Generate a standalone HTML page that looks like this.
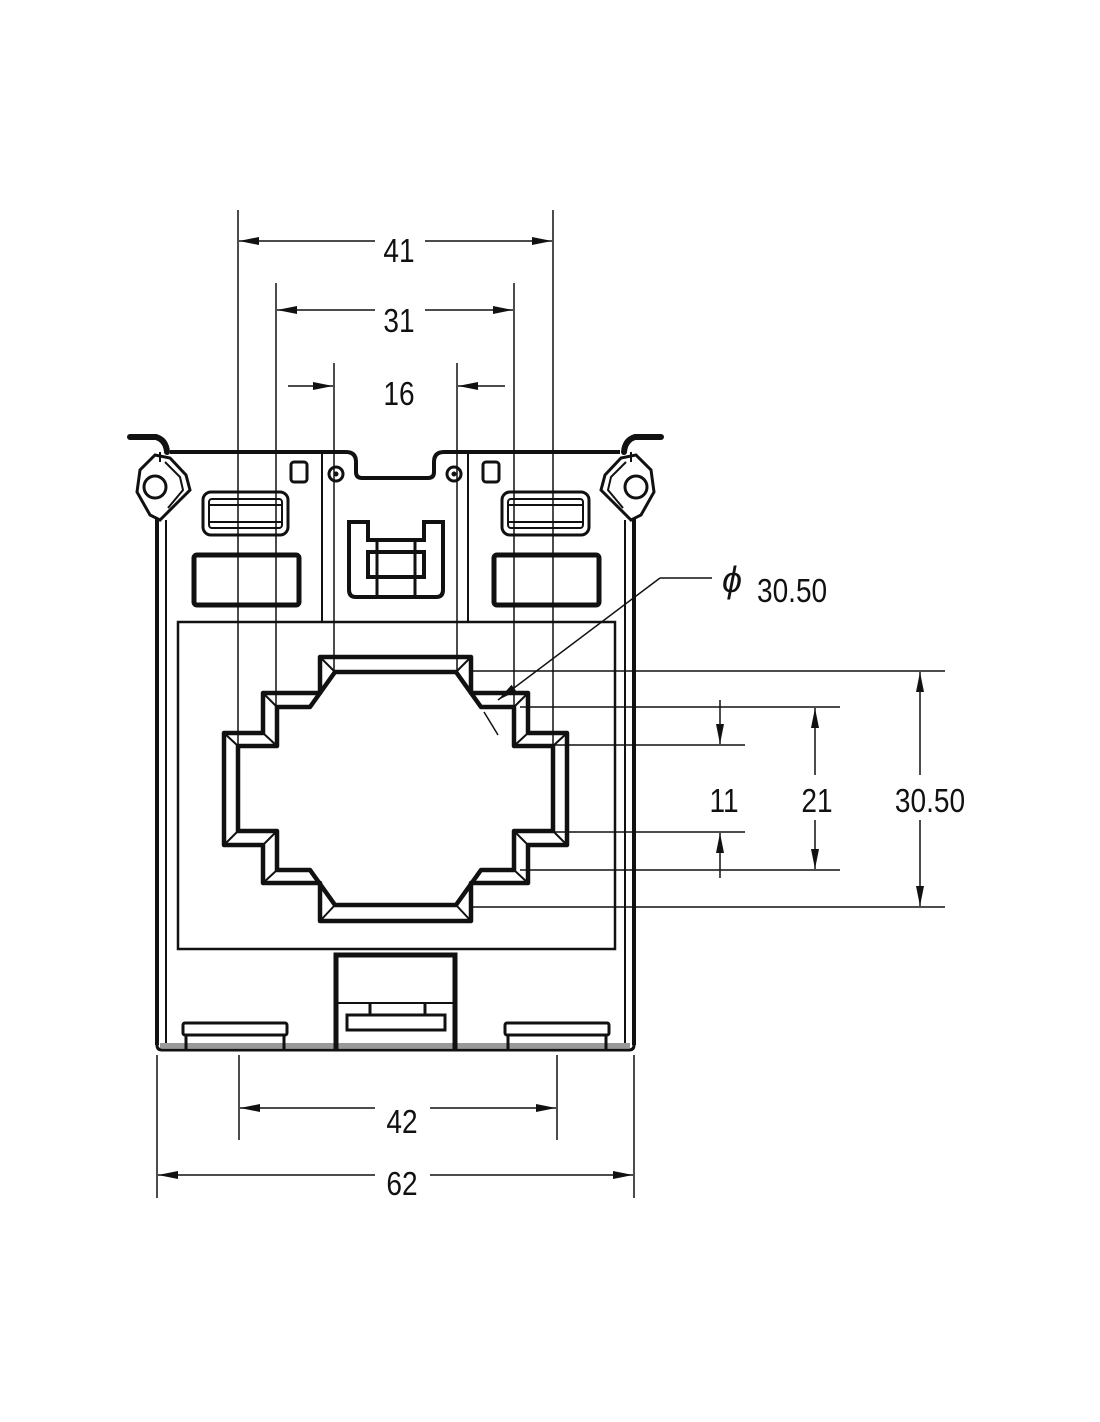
<!DOCTYPE html>
<html><head><meta charset="utf-8"><style>
html,body{margin:0;padding:0;background:#fff;}
svg{display:block;}
text{font-family:"Liberation Sans",sans-serif;font-size:33px;fill:#111;}
</style></head><body>
<svg width="1100" height="1422" viewBox="0 0 1100 1422" xmlns="http://www.w3.org/2000/svg">
<defs>
<marker id="a" viewBox="0 0 20 8" refX="20" refY="4" markerWidth="20" markerHeight="8" markerUnits="userSpaceOnUse" orient="auto-start-reverse"><path d="M0,0 L20,4 L0,8 z" fill="#111"/></marker>
<g id="ear" fill="none" stroke="#111" stroke-width="3">
<path d="M130,437 L156,437 Q166,440 167,452" stroke-width="6" stroke-linecap="round"/>
<path d="M155,455 L140,470 L137,492 L150,515 L160,520 L178,502 L190,490 L186,475 L170,458 Z"/>
<path d="M165,462 L180,477 L183,490 L168,508" stroke-width="2"/>
<circle cx="155" cy="487" r="11"/>
<line x1="160" y1="452" x2="160" y2="462" stroke-width="2"/>
</g>
</defs>
<g fill="none" stroke="#111">
<!-- body -->
<path d="M170,452 L346,452 Q356,452 356,462 L356,472 Q356,478 362,478 L428,478 Q434,478 434,472 L434,462 Q434,452 444,452 L620,452" stroke-width="4"/>
<line x1="157" y1="518" x2="157" y2="1045" stroke-width="4"/>
<line x1="166" y1="520" x2="166" y2="1045" stroke-width="2"/>
<line x1="634" y1="518" x2="634" y2="1045" stroke-width="4"/>
<line x1="625" y1="520" x2="625" y2="1045" stroke-width="2"/>
<path d="M157,1045 Q157,1050 162,1050 L629,1050 Q634,1050 634,1045" stroke-width="3"/>
<rect x="160" y="1043" width="470" height="5" fill="#999" stroke="none"/>
<use href="#ear"/>
<use href="#ear" transform="translate(791,0) scale(-1,1)"/>
<line x1="322" y1="452" x2="322" y2="622" stroke-width="2"/>
<line x1="468" y1="452" x2="468" y2="622" stroke-width="2"/>
<circle cx="336" cy="474" r="7" stroke-width="3"/><circle cx="336" cy="474" r="2" fill="#111"/>
<circle cx="454" cy="474" r="7" stroke-width="3"/><circle cx="454" cy="474" r="2" fill="#111"/>
<rect x="291" y="462" width="16" height="20" rx="3" stroke-width="3"/>
<rect x="483" y="462" width="16" height="20" rx="3" stroke-width="3"/>
<rect x="203" y="492" width="85" height="43" rx="8" stroke-width="3"/>
<rect x="209" y="499" width="73" height="29" rx="3" stroke-width="2"/>
<line x1="209" y1="505" x2="282" y2="505" stroke-width="2"/><line x1="209" y1="522" x2="282" y2="522" stroke-width="2"/>
<rect x="502" y="492" width="87" height="43" rx="8" stroke-width="3"/>
<rect x="508" y="499" width="75" height="29" rx="3" stroke-width="2"/>
<line x1="508" y1="505" x2="583" y2="505" stroke-width="2"/><line x1="508" y1="522" x2="583" y2="522" stroke-width="2"/>
<rect x="194" y="555" width="105" height="50" rx="3" stroke-width="5"/>
<rect x="494" y="555" width="105" height="50" rx="3" stroke-width="5"/>
<!-- center clip -->
<path d="M349,522 L349,590 Q349,597 356,597 L436,597 Q443,597 443,590 L443,522 L424,522 L424,540 L368,540 L368,522 Z" stroke-width="4"/>
<rect x="368" y="552" width="56" height="25" stroke-width="4"/>
<line x1="377" y1="540" x2="377" y2="597" stroke-width="3"/><line x1="415" y1="540" x2="415" y2="597" stroke-width="3"/>
<!-- panel -->
<rect x="178" y="622" width="437" height="327" stroke-width="2.5"/>
<!-- window -->
<path d="M320,657 L471,657 L471,693 L528,693 L528,733 L567,733 L567,845 L528,845 L528,883 L471,883 L471,921 L320,921 L320,883 L263,883 L263,845 L224,845 L224,733 L263,733 L263,693 L320,693 Z" stroke-width="4.5" stroke-linejoin="round"/>
<path d="M335,672 L456,672 L481,707 L514,707 L514,746 L553,746 L553,831 L514,831 L514,870 L481,870 L456,905 L335,905 L310,870 L277,870 L277,831 L238,831 L238,746 L277,746 L277,707 L310,707 Z" stroke-width="4.5" stroke-linejoin="round"/>
<g stroke-width="2">
<path d="M320,657 L335,672 M471,657 L456,672 M320,921 L335,905 M471,921 L456,905"/>
<path d="M263,693 L277,707 M528,693 L514,707 M263,883 L277,870 M528,883 L514,870"/>
<path d="M224,733 L238,746 M567,733 L553,746 M224,845 L238,831 M567,845 L553,831"/>
<path d="M320,693 L310,707 M471,693 L481,707 M320,883 L310,870 M471,883 L481,870"/>
<path d="M263,733 L277,746 M528,733 L514,746 M263,845 L277,831 M528,845 L514,831"/>
</g>
<!-- lower clip -->
<path d="M336,1050 L336,955 L455,955 L455,1050" stroke-width="5"/>
<line x1="336" y1="1003" x2="455" y2="1003" stroke-width="2"/>
<rect x="347" y="1015" width="98" height="15" stroke-width="3"/>
<path d="M370,1015 L370,1003 M425,1015 L425,1003" stroke-width="3"/>
<!-- feet -->
<rect x="183" y="1023" width="104" height="12" rx="2" stroke-width="3"/>
<path d="M186,1035 L186,1049 M284,1035 L284,1049" stroke-width="3"/>
<rect x="505" y="1023" width="104" height="12" rx="2" stroke-width="3"/>
<path d="M508,1035 L508,1049 M606,1035 L606,1049" stroke-width="3"/>
</g>
<!-- dimensions -->
<g stroke="#111" stroke-width="1.5" fill="none">
<line x1="238" y1="210" x2="238" y2="746"/><line x1="553" y1="210" x2="553" y2="746"/>
<line x1="239" y1="241" x2="375" y2="241" marker-start="url(#a)"/><line x1="425" y1="241" x2="552" y2="241" marker-end="url(#a)"/>
<line x1="276" y1="283" x2="276" y2="707"/><line x1="514" y1="283" x2="514" y2="707"/>
<line x1="277" y1="310" x2="375" y2="310" marker-start="url(#a)"/><line x1="425" y1="310" x2="513" y2="310" marker-end="url(#a)"/>
<line x1="334" y1="363" x2="334" y2="672"/><line x1="457" y1="363" x2="457" y2="672"/>
<line x1="288" y1="386" x2="333" y2="386" marker-end="url(#a)"/><line x1="505" y1="386" x2="458" y2="386" marker-end="url(#a)"/>
<line x1="470" y1="671" x2="945" y2="671"/><line x1="470" y1="907" x2="945" y2="907"/>
<line x1="520" y1="707" x2="840" y2="707"/><line x1="520" y1="870" x2="840" y2="870"/>
<line x1="553" y1="745" x2="745" y2="745"/><line x1="553" y1="832" x2="745" y2="832"/>
<line x1="920" y1="672" x2="920" y2="775" marker-start="url(#a)"/><line x1="920" y1="820" x2="920" y2="906" marker-end="url(#a)"/>
<line x1="815" y1="708" x2="815" y2="775" marker-start="url(#a)"/><line x1="815" y1="820" x2="815" y2="869" marker-end="url(#a)"/>
<line x1="720" y1="700" x2="720" y2="744" marker-end="url(#a)"/><line x1="720" y1="878" x2="720" y2="833" marker-end="url(#a)"/>
<line x1="712" y1="578" x2="660" y2="578"/><line x1="660" y1="578" x2="498" y2="700" marker-end="url(#a)"/>
<path d="M484,712 Q492,725 498,735"/>
<line x1="239" y1="1055" x2="239" y2="1140"/><line x1="557" y1="1055" x2="557" y2="1140"/>
<line x1="240" y1="1108" x2="375" y2="1108" marker-start="url(#a)"/><line x1="430" y1="1108" x2="556" y2="1108" marker-end="url(#a)"/>
<line x1="157" y1="1055" x2="157" y2="1198"/><line x1="634" y1="1055" x2="634" y2="1198"/>
<line x1="158" y1="1175" x2="375" y2="1175" marker-start="url(#a)"/><line x1="430" y1="1175" x2="633" y2="1175" marker-end="url(#a)"/>
</g>
<g text-anchor="middle">
<text x="399" y="262" transform="translate(399 0) scale(0.85 1) translate(-399 0)">41</text>
<text x="399" y="332" transform="translate(399 0) scale(0.85 1) translate(-399 0)">31</text>
<text x="399" y="405" transform="translate(399 0) scale(0.85 1) translate(-399 0)">16</text>
<text x="724" y="812" transform="translate(724 0) scale(0.85 1) translate(-724 0)">11</text>
<text x="817" y="812" transform="translate(817 0) scale(0.85 1) translate(-817 0)">21</text>
<text x="930" y="812" transform="translate(930 0) scale(0.85 1) translate(-930 0)">30.50</text>
<text x="402" y="1133" transform="translate(402 0) scale(0.85 1) translate(-402 0)">42</text>
<text x="402" y="1195" transform="translate(402 0) scale(0.85 1) translate(-402 0)">62</text>
</g>
<text x="722" y="592" style="font-size:36px;font-style:italic">ϕ</text>
<text x="757" y="602" transform="translate(757 0) scale(0.85 1) translate(-757 0)">30.50</text>
</svg>
</body></html>
